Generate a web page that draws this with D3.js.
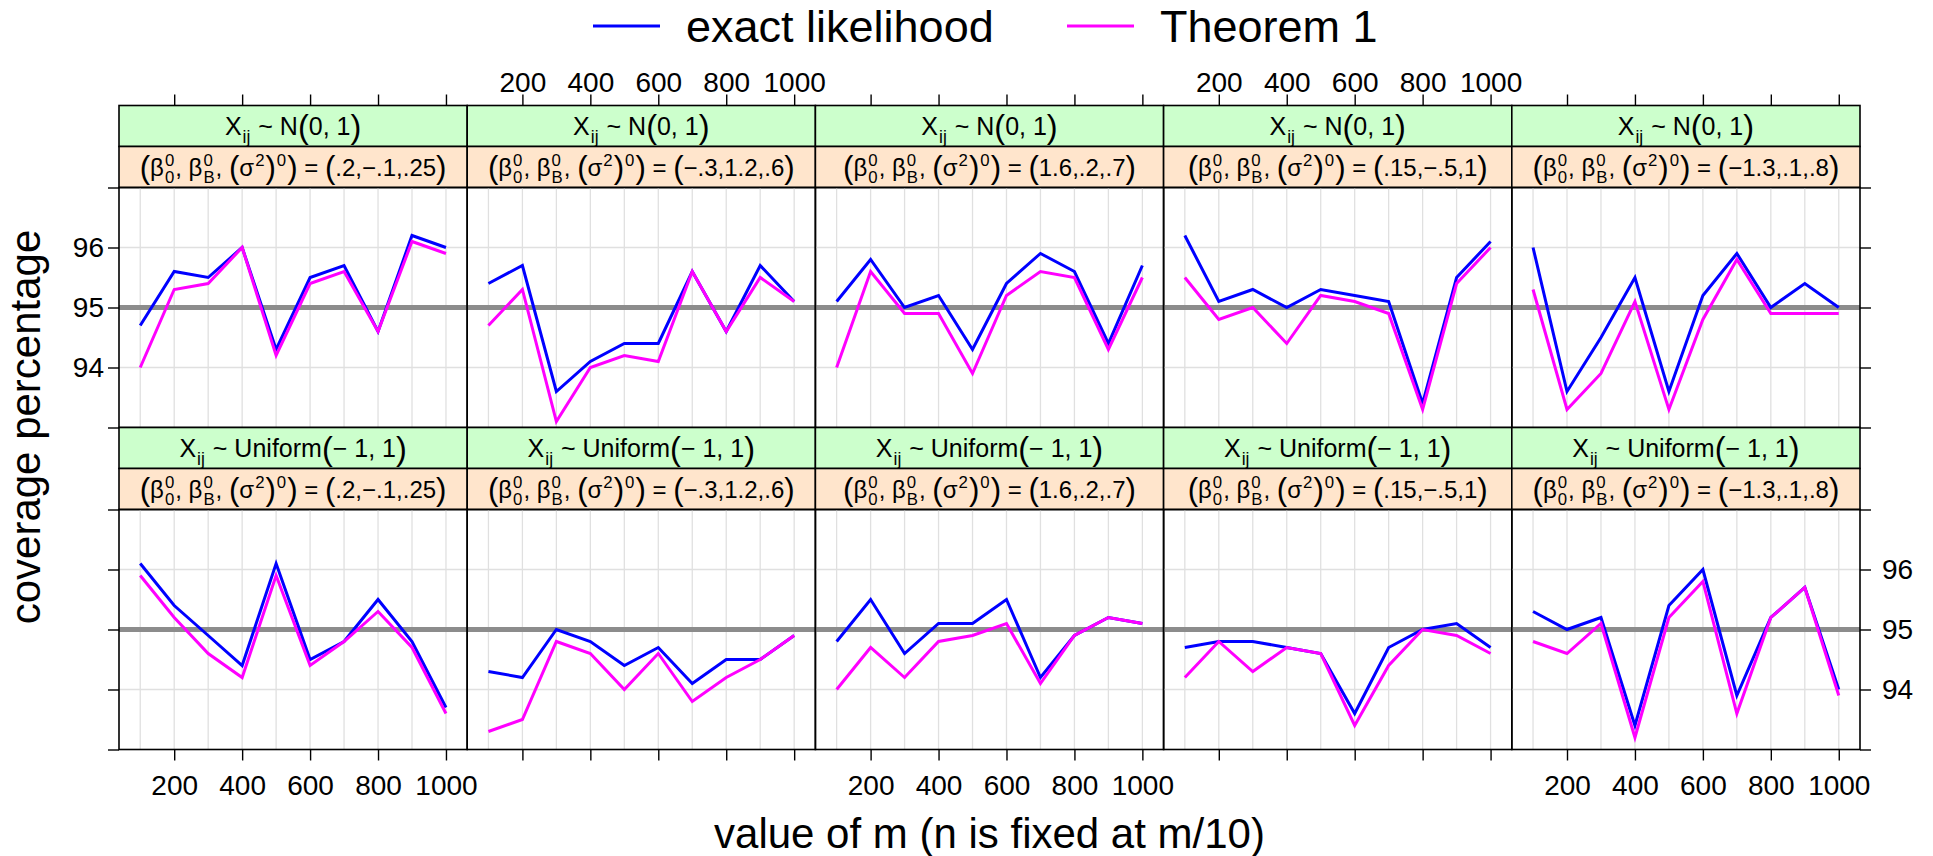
<!DOCTYPE html>
<html>
<head>
<meta charset="utf-8">
<script src="https://cdn.jsdelivr.net/npm/d3@7"></script>
<style>
  body { margin: 0; background: #ffffff; }
  text { font-family: "Liberation Sans", Arial, Helvetica, sans-serif; fill: #000; white-space: pre; }
</style>
</head>
<body>
<div id="chart"></div>
<script>
// ---- data ----
var mValues = [100, 200, 300, 400, 500, 600, 700, 800, 900, 1000];
var xTicks = [200, 400, 600, 800, 1000];
var yTicks = [93, 94, 95, 96, 97];
var yTickLabels = ["", "94", "95", "96", ""];
var paramLabels = [".2,\u2212.1,.25", "\u2212.3,1.2,.6", "1.6,.2,.7", ".15,\u2212.5,1", "\u22121.3,.1,.8"];
var seriesNames = ["exact likelihood", "Theorem 1"];
var seriesColors = ["#0000ff", "#ff00ff"];

// X ~ N(0,1), one row per parameter setting
var normalExact = [
  [94.7, 95.6, 95.5, 96.0, 94.3, 95.5, 95.7, 94.6, 96.2, 96.0],
  [95.4, 95.7, 93.6, 94.1, 94.4, 94.4, 95.6, 94.6, 95.7, 95.1],
  [95.1, 95.8, 95.0, 95.2, 94.3, 95.4, 95.9, 95.6, 94.4, 95.7],
  [96.2, 95.1, 95.3, 95.0, 95.3, 95.2, 95.1, 93.4, 95.5, 96.1],
  [96.0, 93.6, 94.5, 95.5, 93.6, 95.2, 95.9, 95.0, 95.4, 95.0]
];
var normalTheorem = [
  [94.0, 95.3, 95.4, 96.0, 94.2, 95.4, 95.6, 94.6, 96.1, 95.9],
  [94.7, 95.3, 93.1, 94.0, 94.2, 94.1, 95.6, 94.6, 95.5, 95.1],
  [94.0, 95.6, 94.9, 94.9, 93.9, 95.2, 95.6, 95.5, 94.3, 95.5],
  [95.5, 94.8, 95.0, 94.4, 95.2, 95.1, 94.9, 93.3, 95.4, 96.0],
  [95.3, 93.3, 93.9, 95.1, 93.3, 94.8, 95.8, 94.9, 94.9, 94.9]
];
// X ~ Uniform(-1,1)
var uniformExact = [
  [96.1, 95.4, 94.9, 94.4, 96.1, 94.5, 94.8, 95.5, 94.8, 93.7],
  [94.3, 94.2, 95.0, 94.8, 94.4, 94.7, 94.1, 94.5, 94.5, 94.9],
  [94.8, 95.5, 94.6, 95.1, 95.1, 95.5, 94.2, 94.9, 95.2, 95.1],
  [94.7, 94.8, 94.8, 94.7, 94.6, 93.6, 94.7, 95.0, 95.1, 94.7],
  [95.3, 95.0, 95.2, 93.4, 95.4, 96.0, 93.9, 95.2, 95.7, 94.0]
];
var uniformTheorem = [
  [95.9, 95.2, 94.6, 94.2, 95.9, 94.4, 94.8, 95.3, 94.7, 93.6],
  [93.3, 93.5, 94.8, 94.6, 94.0, 94.6, 93.8, 94.2, 94.5, 94.9],
  [94.0, 94.7, 94.2, 94.8, 94.9, 95.1, 94.1, 94.9, 95.2, 95.1],
  [94.2, 94.8, 94.3, 94.7, 94.6, 93.4, 94.4, 95.0, 94.9, 94.6],
  [94.8, 94.6, 95.1, 93.2, 95.2, 95.8, 93.6, 95.2, 95.7, 93.9]
];

// ---- layout ----
var svgWidth = 1933;
var svgHeight = 856;
var plotLeft = 119;
var panelWidth = 348.2;
var stripHeight = 41;
var panelHeight = 240;
var rowTops = [105.5, 427.5];   // top edge of the upper strip in each row
var tickLen = 11;

var svg = d3.select("#chart")
  .append("svg")
  .attr("width", svgWidth)
  .attr("height", svgHeight);

// write a plotmath-like label made of pieces: plain text, big parens, scripts
function mathLabel(sel, tokens, cx, cy, fs) {
  var g = sel.append("g");
  var x = 0;
  tokens.forEach(function(tk) {
    var t;
    if (tk.t != null) {
      t = g.append("text").attr("x", x).attr("y", 0)
        .style("font-size", fs + "px").text(tk.t);
      x += t.node().getComputedTextLength();
    } else if (tk.p != null) {
      t = g.append("text").attr("x", x).attr("y", fs * 0.1)
        .style("font-size", (fs * 1.3) + "px").text(tk.p);
      x += t.node().getComputedTextLength();
    } else {
      var w = 0;
      if (tk.sup != null) {
        t = g.append("text").attr("x", x + 1).attr("y", -fs * 0.42)
          .style("font-size", (fs * 0.7) + "px").text(tk.sup);
        w = Math.max(w, t.node().getComputedTextLength());
      }
      if (tk.sub != null) {
        t = g.append("text").attr("x", x + 1).attr("y", fs * 0.32)
          .style("font-size", (fs * 0.7) + "px").text(tk.sub);
        w = Math.max(w, t.node().getComputedTextLength());
      }
      x += w + 2;
    }
  });
  g.attr("transform", "translate(" + (cx - x / 2) + "," + (cy + fs * 0.36) + ")");
  return g;
}

function designTokens(row) {
  if (row === 0) {
    return [{t: "X"}, {sub: "ij"}, {t: " ~ N"}, {p: "("}, {t: "0, 1"}, {p: ")"}];
  }
  return [{t: "X"}, {sub: "ij"}, {t: " ~ Uniform"}, {p: "("}, {t: "\u2212 1, 1"}, {p: ")"}];
}

function paramTokens(label) {
  return [{p: "("}, {t: "\u03b2"}, {sup: "0", sub: "0"}, {t: ", \u03b2"}, {sup: "0", sub: "B"},
    {t: ", "}, {p: "("}, {t: "\u03c3"}, {sup: "2"}, {p: ")"}, {sup: "0"}, {p: ")"},
    {t: " = "}, {p: "("}, {t: label}, {p: ")"}];
}

var rowData = [[normalExact, normalTheorem], [uniformExact, uniformTheorem]];

rowData.forEach(function(series, row) {
  var stripTop = rowTops[row];
  var panelTop = stripTop + 2 * stripHeight;

  var yScale = d3.scaleLinear()
    .domain([93, 97])
    .range([panelTop + panelHeight, panelTop]);

  for (var col = 0; col < 5; col++) {
    var left = plotLeft + col * panelWidth;
    var xScale = d3.scaleLinear()
      .domain([37.5, 1062.5])
      .range([left, left + panelWidth]);

    var panel = svg.append("g");

    // strips
    panel.append("rect")
      .attr("x", left).attr("y", stripTop)
      .attr("width", panelWidth).attr("height", stripHeight)
      .attr("fill", "#ccffcc").attr("stroke", "#000").attr("stroke-width", 1.6);
    panel.append("rect")
      .attr("x", left).attr("y", stripTop + stripHeight)
      .attr("width", panelWidth).attr("height", stripHeight)
      .attr("fill", "#ffe5cc").attr("stroke", "#000").attr("stroke-width", 1.6);
    mathLabel(panel, designTokens(row), left + panelWidth / 2, stripTop + stripHeight / 2, 25);
    mathLabel(panel, paramTokens(paramLabels[col]), left + panelWidth / 2, stripTop + 1.5 * stripHeight, 24);

    // grid
    panel.selectAll(".vgrid")
      .data(mValues)
      .enter()
      .append("line")
      .attr("x1", d => xScale(d)).attr("x2", d => xScale(d))
      .attr("y1", panelTop).attr("y2", panelTop + panelHeight)
      .attr("stroke", "#e0e0e0").attr("stroke-width", 1.3);
    panel.selectAll(".hgrid")
      .data([94, 95, 96])
      .enter()
      .append("line")
      .attr("x1", left).attr("x2", left + panelWidth)
      .attr("y1", d => yScale(d)).attr("y2", d => yScale(d))
      .attr("stroke", "#e0e0e0").attr("stroke-width", 1.3);

    // reference line at nominal 95%
    panel.append("line")
      .attr("x1", left).attr("x2", left + panelWidth)
      .attr("y1", yScale(95)).attr("y2", yScale(95))
      .attr("stroke", "#8c8c8c").attr("stroke-width", 5);

    // the two coverage curves
    series.forEach(function(s, k) {
      var line = d3.line()
        .x((d, i) => xScale(mValues[i]))
        .y(d => yScale(d));
      panel.append("path")
        .datum(s[col])
        .attr("d", line)
        .attr("fill", "none")
        .attr("stroke", seriesColors[k])
        .attr("stroke-width", 3)
        .attr("stroke-linejoin", "miter");
    });

    // panel frame
    panel.append("rect")
      .attr("x", left).attr("y", panelTop)
      .attr("width", panelWidth).attr("height", panelHeight)
      .attr("fill", "none").attr("stroke", "#000").attr("stroke-width", 1.6);

    // x axis ticks: top of upper row, bottom of lower row
    if (row === 0) {
      var topAxis = d3.axisTop(xScale).tickValues(xTicks).tickSize(tickLen)
        .tickFormat(col % 2 === 1 ? d3.format("d") : "");
      var ta = panel.append("g")
        .attr("transform", `translate(0, ${stripTop})`)
        .call(topAxis);
      ta.select(".domain").remove();
      ta.selectAll("line").attr("stroke", "#000").attr("stroke-width", 1.4);
      ta.selectAll("text").style("font-size", "28px").attr("y", -14)
        .attr("font-family", null);
    } else {
      var bottomAxis = d3.axisBottom(xScale).tickValues(xTicks).tickSize(tickLen)
        .tickFormat(col % 2 === 0 ? d3.format("d") : "");
      var ba = panel.append("g")
        .attr("transform", `translate(0, ${panelTop + panelHeight})`)
        .call(bottomAxis);
      ba.select(".domain").remove();
      ba.selectAll("line").attr("stroke", "#000").attr("stroke-width", 1.4);
      ba.selectAll("text").style("font-size", "28px").attr("dy", null).attr("y", 45)
        .attr("font-family", null);
    }
  }

  // y axis: ticks on both sides, labels left on top row, right on bottom row
  var leftAxis = d3.axisLeft(yScale).tickValues(yTicks).tickSize(tickLen)
    .tickFormat((d, i) => row === 0 ? yTickLabels[i] : "");
  var la = svg.append("g")
    .attr("transform", `translate(${plotLeft}, 0)`)
    .call(leftAxis);
  var rightAxis = d3.axisRight(yScale).tickValues(yTicks).tickSize(tickLen)
    .tickFormat((d, i) => row === 1 ? yTickLabels[i] : "");
  var ra = svg.append("g")
    .attr("transform", `translate(${plotLeft + 5 * panelWidth}, 0)`)
    .call(rightAxis);
  [la, ra].forEach(function(a) {
    a.select(".domain").remove();
    a.selectAll("line").attr("stroke", "#000").attr("stroke-width", 1.4);
    a.selectAll("text").style("font-size", "28px").attr("font-family", null);
  });
  la.selectAll("text").attr("x", -15);
  ra.selectAll("text").attr("x", 22);
});

// legend
var legendX = [593, 1067];
var legend = svg.append("g");
seriesNames.forEach(function(name, k) {
  legend.append("line")
    .attr("x1", legendX[k]).attr("x2", legendX[k] + 67)
    .attr("y1", 26).attr("y2", 26)
    .attr("stroke", seriesColors[k]).attr("stroke-width", 3);
  legend.append("text")
    .attr("x", legendX[k] + 93)
    .attr("y", 42)
    .style("font-size", "45px")
    .text(name);
});

// axis titles
svg.append("text")
  .attr("x", plotLeft + 2.5 * panelWidth)
  .attr("y", 848)
  .attr("text-anchor", "middle")
  .style("font-size", "42px")
  .text("value of m (n is fixed at m/10)");

svg.append("text")
  .attr("transform", "rotate(-90)")
  .attr("x", -427)
  .attr("y", 40)
  .attr("text-anchor", "middle")
  .style("font-size", "42px")
  .text("coverage percentage");
</script>
</body>
</html>
